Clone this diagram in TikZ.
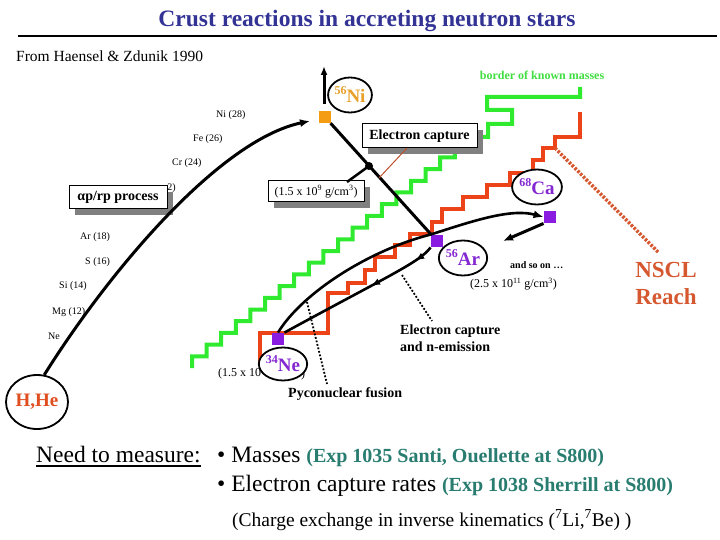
\documentclass[tikz,border=0pt]{standalone}
\usepackage{fontspec}
\setmainfont{Liberation Serif}
\usetikzlibrary{arrows.meta,decorations.markings,shapes.geometric,shadows,calc}
\definecolor{titleblue}{RGB}{51,51,150}
\definecolor{kgreen}{RGB}{48,234,48}
\definecolor{kgreentext}{RGB}{64,222,64}
\definecolor{nred}{RGB}{236,68,24}
\definecolor{nsclc}{RGB}{214,88,48}
\definecolor{hhecol}{RGB}{224,78,32}
\definecolor{niorange}{RGB}{244,156,20}
\definecolor{nitext}{RGB}{232,160,40}
\definecolor{purp}{RGB}{138,28,226}
\definecolor{purptext}{RGB}{132,40,210}
\definecolor{tealx}{RGB}{40,124,112}
\definecolor{shadowgray}{RGB}{128,128,128}
\definecolor{ecline}{RGB}{190,80,50}
\newcommand{\nuclab}[2]{\raisebox{0.42em}{\fontsize{12}{12}\selectfont #1}#2}
\begin{document}
\begin{tikzpicture}[x=1pt,y=-1pt,
  blk/.style={line width=3pt, black},
  lbl/.style={inner sep=0pt, anchor=west, font=\fontsize{10}{12}\selectfont},
  nuc/.style={ellipse, draw, line width=1.8pt, fill=white, inner sep=0pt, minimum width=41pt, minimum height=35pt, font=\bfseries\fontsize{19}{19}\selectfont},
  sqp/.style={fill=purp, minimum size=12.5pt, inner sep=0pt},
  sqo/.style={fill=niorange, minimum size=12pt, inner sep=0pt},
  shbox/.style={draw, line width=1pt, fill=white, inner sep=0pt, drop shadow={shadow xshift=6pt, shadow yshift=-6pt, fill=shadowgray, opacity=1}},
  dotl/.style={line width=1.8pt, dash pattern=on 1.8pt off 1.8pt},
  tip/.style={-{Latex[length=10pt,width=8pt]}},
  midarrows/.style={postaction={decorate}, decoration={markings,
     mark=at position 0.12 with {\arrow{Latex[length=9pt,width=7pt]}},
     mark=at position 0.42 with {\arrow{Latex[length=9pt,width=7pt]}}}}
]
\useasboundingbox (0,0) rectangle (720,540);
\fill[white] (0,0) rectangle (720,540);

% title
\node[font=\bfseries\fontsize{23.5}{24}\selectfont, text=titleblue, inner sep=0pt] (title) at (367,21) {Crust reactions in accreting neutron stars};
\coordinate (rl) at (18,36);
\coordinate (rr) at (717,36);
\draw[line width=1.2pt] (rl) -- (rr);
\node[anchor=west, inner sep=0pt, font=\fontsize{15.5}{16}\selectfont] (src) at (16,56) {From Haensel \& Zdunik 1990};

% border of known masses
\draw[kgreen, line width=4pt] (192,368) \foreach \i in {1,...,18}{ -- ++(0,-11.7) -- ++(14.6,0)} -- (455,146) -- (470,146) -- (470,137) -- (488,137) -- (488,124) -- (512,124) -- (512,110) -- (487,110) -- (487,97) -- (580,97) -- (580,87);
\node[font=\bfseries\fontsize{12}{12}\selectfont, text=kgreentext, inner sep=0pt] (border) at (542,75) {border of known masses};

% NSCL reach
\draw[nred, line width=4pt] (260,362) -- (260,333) -- (328,333) -- (328,293) -- (348,293) -- (348,283) -- (365,283) -- (365,270) -- (375,270) -- (375,257) -- (395,257) -- (395,245) -- (410,245) -- (410,234) -- (432,234) -- (432,222) -- (442,222) -- (442,209) -- (463,209) -- (463,197) -- (487,197) -- (487,185) -- (510,185) -- (510,173) -- (533,173) -- (533,160) -- (543,160) -- (543,148) -- (555,148) -- (555,137) -- (580,137) -- (580,112);
\node[font=\bfseries\fontsize{23}{27}\selectfont, text=nsclc, align=center, inner sep=0pt] (nscl) at (666,283) {NSCL\\Reach};
\coordinate (nsA) at (555,148);
\coordinate (nsB) at (658,252);
\draw[nsclc, line width=3.5pt, dash pattern=on 2.5pt off 1.5pt] (nsA) -- (nsB);

% element labels
\node[lbl] (lNi) at (216,115) {Ni (28)};
\node[lbl] (lFe) at (193,139) {Fe (26)};
\node[lbl] (lCr) at (172,163) {Cr (24)};
\node[lbl, anchor=east] (lTi) at (176,188) {2)};
\node[lbl] (lAr) at (80,237) {Ar (18)};
\node[lbl] (lS) at (85,262) {S (16)};
\node[lbl] (lSi) at (59,286) {Si (14)};
\node[lbl] (lMg) at (52,312) {Mg (12)};
\node[lbl] (lNe) at (48,336) {Ne};

% boxes
\node[shbox, minimum width=115pt, minimum height=24pt, font=\bfseries\fontsize{14}{14}\selectfont] (ecbox) at (419.5,136) {Electron capture};
\node[shbox, minimum width=96pt, minimum height=21pt, font=\fontsize{12}{12}\selectfont] (dens9) at (316,191.5) {(1.5 x 10\textsuperscript{9} g/cm\textsuperscript{3})};
\node[shbox, minimum width=98pt, minimum height=23pt, font=\bfseries\fontsize{14}{14}\selectfont] (aprp) at (118,197.5) {αp/rp process};

% nuclei
\node[nuc, text=nitext] (ni56) at (350,95) {\nuclab{56}{Ni}};
\node[nuc, text=purptext] (ca68) at (537,187) {\nuclab{68}{Ca}};
\node[nuc, text=purptext] (ar56) at (463,258) {\nuclab{56}{Ar}};
\node[anchor=west, inner sep=0pt, font=\fontsize{12}{12}\selectfont] (dens12) at (218,374) {(1.5 x 10};
\node[anchor=west, inner sep=0pt, font=\fontsize{12}{12}\selectfont] (dens12b) at (301,375) {)};
\node[nuc, text=purptext, minimum height=33pt] (ne34) at (283,364) {\nuclab{34}{Ne}};
\node[nuc, minimum width=62pt, minimum height=54pt, text=hhecol] (hhe) at (37,402) {H,He};

% squares
\node[sqo] (sqNi) at (325,117) {};
\node[sqp] (sqAr) at (437,241) {};
\node[sqp] (sqCa) at (550,217) {};
\node[sqp] (sqNe) at (278,339) {};

% connectors
\coordinate (niEnd) at (310,121);
\draw[blk, tip] (hhe.75) .. controls (110,270) and (220,140) .. (niEnd);
\coordinate (niA) at (324,104);
\coordinate (niB) at (324,66);
\draw[blk, -{Latex[length=9pt,width=7pt]}] (niA) -- (niB);
\draw[blk] (sqNi) -- (sqAr);
\coordinate (dot) at (369,166);
\fill (dot) circle[radius=4pt];
\coordinate (d9t) at (347,182);
\draw[line width=2.5pt] (dot) -- (d9t);
\coordinate (ect) at (407,148);
\coordinate (ecb) at (379,178);
\draw[ecline, line width=1pt] (ect) -- (ecb);
\draw[line width=2.6pt, tip] (sqNe.north) .. controls (303,292) and (370,250) .. (sqAr.north west) .. controls (470,222) and (510,208) .. (sqCa.west);
\draw[line width=2.6pt, midarrows] (sqAr.south west) .. controls (420,262) and (390,275) .. (sqNe.north east);
\coordinate (aso) at (503,241);
\draw[blk, -{Latex[length=10pt,width=8pt]}] (sqCa.south west) -- (aso);

% annotations
\node[anchor=west, inner sep=0pt, font=\bfseries\fontsize{10}{10}\selectfont] (soon) at (510,265) {and so on …};
\node[anchor=west, inner sep=0pt, font=\fontsize{12}{12}\selectfont] (dens11) at (470,284) {(2.5 x 10\textsuperscript{11} g/cm\textsuperscript{3})};
\node[anchor=west, align=left, inner sep=0pt, font=\bfseries\fontsize{14}{17}\selectfont] (ecn) at (400,338.5) {Electron capture\\and n-emission};
\node[anchor=west, inner sep=0pt, font=\bfseries\fontsize{14}{14}\selectfont] (pyc) at (288,394) {Pyconuclear fusion};
\coordinate (pyA) at (307,302);
\coordinate (pyB) at (327,384);
\draw[dotl] (pyA) -- (pyB);
\coordinate (enA) at (402,275);
\coordinate (enB) at (432,321);
\draw[dotl] (enA) -- (enB);

% bottom text
\node[anchor=west, inner sep=0pt, font=\fontsize{23.5}{24}\selectfont] (need) at (36,455) {Need to measure:};
\draw[line width=1.3pt] ($(need.base west)+(0,3)$) -- ($(need.base east)+(0,3)$);
\node[anchor=west, inner sep=0pt, font=\fontsize{23.5}{24}\selectfont] (m1) at (217,457) {• Masses {\bfseries\fontsize{20}{20}\selectfont\color{tealx}(Exp 1035 Santi, Ouellette at S800)}};
\node[anchor=west, inner sep=0pt, font=\fontsize{23.5}{24}\selectfont] (m2) at (217,486) {• Electron capture rates {\bfseries\fontsize{20}{20}\selectfont\color{tealx}(Exp 1038 Sherrill at S800)}};
\node[anchor=west, inner sep=0pt, font=\fontsize{19.5}{20}\selectfont] (m3) at (232,520) {(Charge exchange in inverse kinematics (\textsuperscript{7}Li,\textsuperscript{7}Be) )};
\end{tikzpicture}
\end{document}
